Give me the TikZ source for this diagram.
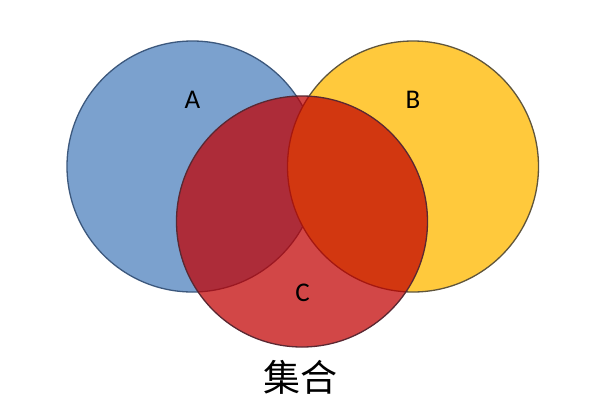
\documentclass[tikz,border=0pt]{standalone}
\usepackage{fontspec}
\setmainfont{Carlito}
\newfontfamily\cjk{Noto Sans CJK SC}
\definecolor{setblue}{RGB}{123,161,206}
\definecolor{setblueedge}{RGB}{60,88,125}
\definecolor{setyellow}{RGB}{255,201,60}
\definecolor{setyellowedge}{RGB}{95,85,60}
\definecolor{setred}{RGB}{193,0,0}
\definecolor{setrededge}{RGB}{90,40,50}
\tikzset{
  setcircle/.style={circle, minimum size=251pt, inner sep=0pt, line width=1.3pt},
  setlabel/.style={font=\fontsize{27}{27}\selectfont, text=black},
}
\begin{document}
\begin{tikzpicture}[x=1pt, y=-1pt]
      \useasboundingbox[fill=white] (0,0) rectangle (600,413);
      \node[setcircle, draw=setblueedge, fill=setblue] (A) at (192.5,166.5) {};
      \node[setcircle, draw=setyellowedge, fill=setyellow] (B) at (413,166.5) {};
      \node[setcircle, draw=setrededge, fill=setred, fill opacity=0.72] (C) at (302,221.5) {};
      \draw
        (192.5,100) node[setlabel] (la){A}
        (413,100) node[setlabel] (lb){B}
        (302.5,293) node[setlabel] (lc){C}
        (300,377) node[font=\cjk\fontsize{37}{37}\selectfont] (title){集合};
    \end{tikzpicture}
\end{document}
